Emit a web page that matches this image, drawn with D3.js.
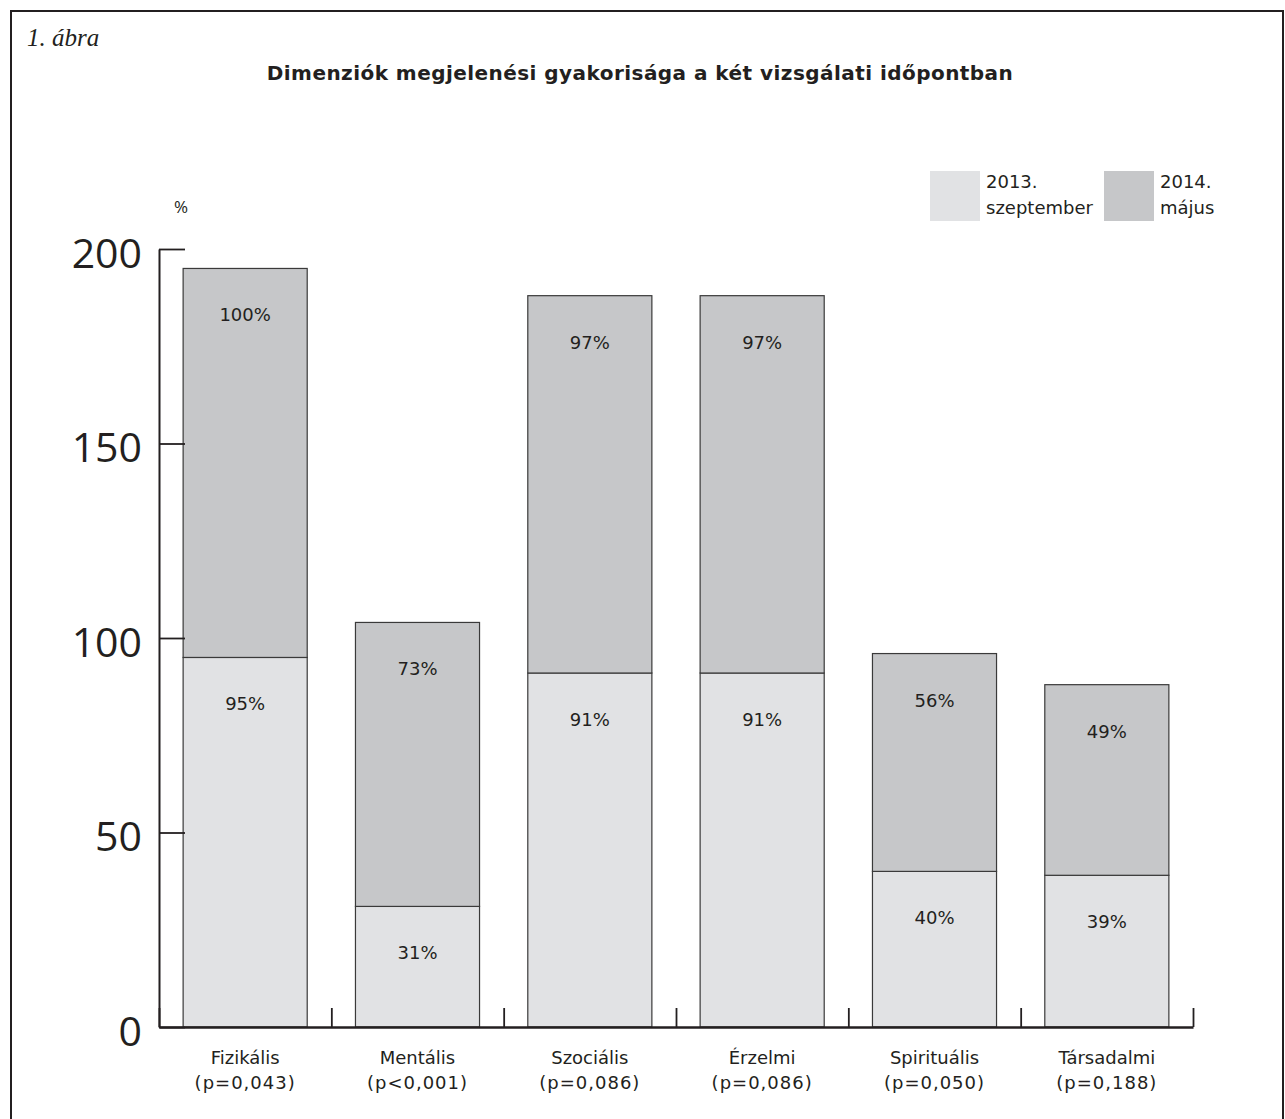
<!DOCTYPE html>
<html>
<head>
<meta charset="utf-8">
<script src="https://cdn.jsdelivr.net/npm/d3@7"></script>
<style>
  body { margin: 0; background: #fff; }
  svg { display: block; }
</style>
</head>
<body>
<svg></svg>
<script>
// chart data
let categories = ["Fizikális", "Mentális", "Szociális", "Érzelmi", "Spirituális", "Társadalmi"]
let pValues = ["(p=0,043)", "(p<0,001)", "(p=0,086)", "(p=0,086)", "(p=0,050)", "(p=0,188)"]
let sept2013 = [95, 31, 91, 91, 40, 39]
let may2014 = [100, 73, 97, 97, 56, 49]
let seriesNames = [["2013.", "szeptember"], ["2014.", "május"]]
let yTicks = [0, 50, 100, 150, 200]

let width = 1285
let height = 1119
let plotLeft = 159, plotRight = 1193, plotTop = 249, plotBottom = 1027
let colors = ["#e1e2e4", "#c6c7c9"]
let ink = "#231f20"
let labelFont = "DejaVu Sans"

let svg = d3.select("svg").attr("width", width).attr("height", height)

// frame
svg.append("path")
   .attr("d", "M11,1125 V11 H1283 V1125")
   .attr("fill", "none")
   .attr("stroke", ink)
   .attr("stroke-width", 2)

svg.append("text")
   .attr("x", 27).attr("y", 46)
   .attr("font-family", "Liberation Serif")
   .attr("font-style", "italic")
   .attr("font-size", 25)
   .attr("fill", ink)
   .text("1. ábra")

svg.append("text")
   .attr("x", 640).attr("y", 80)
   .attr("text-anchor", "middle")
   .attr("font-family", labelFont)
   .attr("font-weight", "bold")
   .attr("font-size", 20)
   .attr("letter-spacing", 0.45)
   .attr("fill", ink)
   .text("Dimenziók megjelenési gyakorisága a két vizsgálati időpontban")

let yScale = d3.scaleLinear().domain([0, 200]).range([plotBottom, plotTop])
let xScale = d3.scaleBand().domain(categories).range([plotLeft, plotRight])
               .paddingInner(0.28).paddingOuter(0.14)
let edgeScale = d3.scaleLinear().domain([0, categories.length]).range([plotLeft, plotRight])

// stacked data
let rows = categories.map((c, i) => ({ cat: c, s0: sept2013[i], s1: may2014[i] }))
let stack = d3.stack().keys(["s0", "s1"])(rows)

let groups = svg.selectAll("g.series")
  .data(stack)
  .enter()
  .append("g")
  .attr("class", "series")
  .attr("fill", (d, i) => colors[i])

groups.selectAll("rect")
  .data(d => d)
  .enter()
  .append("rect")
  .attr("x", d => xScale(d.data.cat))
  .attr("width", xScale.bandwidth())
  .attr("y", d => yScale(d[1]))
  .attr("height", d => yScale(d[0]) - yScale(d[1]))
  .attr("stroke", "#3a3a3a")
  .attr("stroke-width", 1.2)

groups.selectAll("text")
  .data(d => d.map(v => ({ v: v, val: v[1] - v[0] })))
  .enter()
  .append("text")
  .attr("x", d => xScale(d.v.data.cat) + xScale.bandwidth() / 2)
  .attr("y", d => yScale(d.v[1]) + 53)
  .attr("text-anchor", "middle")
  .attr("font-family", labelFont)
  .attr("font-size", 18)
  .attr("fill", ink)
  .text(d => d.val + "%")

// y axis
let yAxis = d3.axisLeft(yScale).tickValues(yTicks).tickSize(-26).tickSizeOuter(0).tickPadding(17)
let yG = svg.append("g")
  .attr("transform", "translate(" + plotLeft + ",0)")
  .call(yAxis)
yG.select(".domain").attr("stroke", ink).attr("stroke-width", 2)
yG.selectAll(".tick line").attr("stroke", ink).attr("stroke-width", 1.8)
yG.selectAll(".tick text")
  .attr("font-family", "Open Sans")
  .attr("font-size", 41)
  .attr("fill", ink)
  .attr("dy", "0.44em")

svg.append("text")
   .attr("x", 181).attr("y", 213)
   .attr("text-anchor", "middle")
   .attr("font-family", "Open Sans")
   .attr("font-size", 17)
   .attr("fill", ink)
   .text("%")

// x axis with ticks at category edges
let xAxis = d3.axisBottom(edgeScale).tickValues(d3.range(0, categories.length + 1))
              .tickSize(-19).tickSizeOuter(0).tickFormat("")
let xG = svg.append("g")
  .attr("transform", "translate(0," + plotBottom + ")")
  .call(xAxis)
xG.select(".domain").attr("stroke", ink).attr("stroke-width", 2.5)
xG.selectAll(".tick line").attr("stroke", ink).attr("stroke-width", 1.8)

let labels = svg.append("g")
labels.selectAll("text.cat")
  .data(categories)
  .enter()
  .append("text")
  .attr("class", "cat")
  .attr("x", d => xScale(d) + xScale.bandwidth() / 2)
  .attr("y", 1064)
  .attr("text-anchor", "middle")
  .attr("font-family", labelFont)
  .attr("font-size", 18)
  .attr("fill", ink)
  .text(d => d)
labels.selectAll("text.p")
  .data(pValues)
  .enter()
  .append("text")
  .attr("class", "p")
  .attr("x", (d, i) => xScale(categories[i]) + xScale.bandwidth() / 2)
  .attr("y", 1089)
  .attr("text-anchor", "middle")
  .attr("font-family", labelFont)
  .attr("font-size", 18)
  .attr("letter-spacing", 1)
  .attr("fill", ink)
  .text(d => d)

// legend
let legendX = [930, 1104]
let legend = svg.selectAll("g.legend")
  .data(seriesNames)
  .enter()
  .append("g")
  .attr("class", "legend")
  .attr("transform", (d, i) => "translate(" + legendX[i] + ",171)")
legend.append("rect")
  .attr("width", 50).attr("height", 50)
  .attr("fill", (d, i) => colors[i])
legend.append("text")
  .attr("x", 56).attr("y", 17)
  .attr("font-family", labelFont)
  .attr("font-size", 18)
  .attr("fill", ink)
  .text(d => d[0])
legend.append("text")
  .attr("x", 56).attr("y", 43)
  .attr("font-family", labelFont)
  .attr("font-size", 18)
  .attr("fill", ink)
  .text(d => d[1])
</script>
</body>
</html>
